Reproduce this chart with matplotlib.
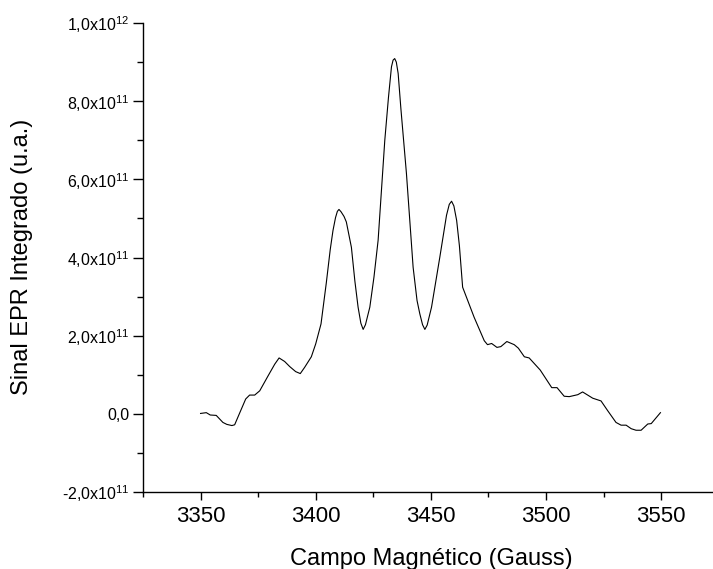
import numpy as np
import matplotlib
matplotlib.use("Agg")
import matplotlib.pyplot as plt
from matplotlib.ticker import MultipleLocator, FuncFormatter

# campo magnetico (Gauss) e sinal integrado (unidades de 1e11)
campo = [3350.0, 3352.5, 3354.2, 3356.8, 3359.7, 3361.4, 3363.6, 3364.8, 3366.9, 3369.6,
         3371.3, 3373.5, 3375.7, 3379.3, 3382.2, 3384.1, 3386.5, 3388.7, 3391.3, 3393.3,
         3395.2, 3398.1, 3400.0, 3402.3, 3404.6, 3406.3, 3407.5, 3408.6, 3409.4, 3410.1,
         3411.0, 3412.3, 3413.3, 3415.5, 3417.0, 3418.4, 3419.6, 3420.6, 3421.6, 3423.5,
         3425.3, 3427.1, 3430.0, 3431.6, 3432.9, 3433.6, 3434.3, 3435.0, 3435.8, 3437.0,
         3439.4, 3442.3, 3444.0, 3445.2, 3446.4, 3447.4, 3448.4, 3450.3, 3453.9, 3456.8,
         3458.0, 3459.0, 3460.0, 3461.2, 3462.4, 3463.8, 3468.8, 3473.2, 3474.6,
         3476.4, 3478.7, 3480.4, 3483.0, 3486.2, 3488.0, 3490.6, 3492.7, 3497.5, 3502.5,
         3504.8, 3507.9, 3510.1, 3513.8, 3515.9, 3520.3, 3523.9, 3526.8, 3530.4, 3532.6,
         3534.8, 3537.0, 3539.1, 3541.3, 3544.2, 3545.7, 3549.7]
sinal = [0.01, 0.03, -0.03, -0.04, -0.22, -0.27, -0.30, -0.28, 0.01, 0.38,
         0.48, 0.48, 0.59, 0.97, 1.27, 1.43, 1.34, 1.21, 1.08, 1.03,
         1.19, 1.46, 1.79, 2.30, 3.35, 4.20, 4.69, 5.02, 5.18, 5.23,
         5.17, 5.05, 4.91, 4.26, 3.40, 2.73, 2.32, 2.16, 2.28, 2.73,
         3.50, 4.44, 7.00, 8.10, 8.88, 9.05, 9.09, 9.00, 8.71, 7.80,
         6.15, 3.75, 2.90, 2.56, 2.28, 2.16, 2.27, 2.73, 4.01, 5.08,
         5.36, 5.44, 5.32, 4.95, 4.30, 3.24, 2.47, 1.87, 1.77,
         1.80, 1.70, 1.72, 1.85, 1.77, 1.68, 1.46, 1.43, 1.12, 0.67,
         0.67, 0.45, 0.44, 0.49, 0.56, 0.40, 0.33, 0.08, -0.22, -0.29,
         -0.29, -0.38, -0.42, -0.42, -0.26, -0.25, 0.03]

plt.rcParams['font.family'] = ['Liberation Sans', 'DejaVu Sans']
plt.rcParams['mathtext.fontset'] = 'custom'
plt.rcParams['mathtext.rm'] = 'Liberation Sans'
plt.rcParams['mathtext.it'] = 'Liberation Sans'

W, H = 713, 569
fig = plt.figure(figsize=(W/100, H/100), dpi=100)
ax = fig.add_axes([143/W, 77/H, 575.7/W, 469/H])

ax.plot(campo, np.array(sinal)*1e11, color='black', linewidth=0.8)

ax.set_xlim(3325, 3575)
ax.set_ylim(-2e11, 1e12)
ax.spines['top'].set_visible(False)
ax.spines['right'].set_visible(False)
ax.spines['left'].set_linewidth(1.0)
ax.spines['bottom'].set_linewidth(1.0)

ax.xaxis.set_major_locator(MultipleLocator(50))
ax.xaxis.set_minor_locator(MultipleLocator(25))
ax.yaxis.set_major_locator(MultipleLocator(2e11))
ax.yaxis.set_minor_locator(MultipleLocator(1e11))

def fmt_y(v, pos):
    if abs(v) < 1:
        return '0,0'
    e = int(np.floor(np.log10(abs(v))))
    m = v/10**e
    return (r'%.1fx10$^{%d}$' % (m, e)).replace('.', ',')

ax.yaxis.set_major_formatter(FuncFormatter(fmt_y))

ax.tick_params(axis='y', which='major', direction='out', length=7, width=1.0, labelsize=11.5, pad=3)
ax.tick_params(axis='y', which='minor', direction='out', length=4.5, width=1.0)
ax.tick_params(axis='x', which='major', direction='out', length=6, width=1.0, labelsize=16, pad=4)
ax.tick_params(axis='x', which='minor', direction='out', length=3.5, width=1.0)

ax.set_xlabel('Campo Magnético (Gauss)', fontsize=17, va='baseline')
ax.xaxis.set_label_coords(431/W, 4/H, transform=fig.transFigure)
ax.set_ylabel('Sinal EPR Integrado (u.a.)', fontsize=17, va='center', ha='center')
ax.yaxis.set_label_coords(22/W, (H-257)/H, transform=fig.transFigure)

fig.savefig('out.png', dpi=100)
